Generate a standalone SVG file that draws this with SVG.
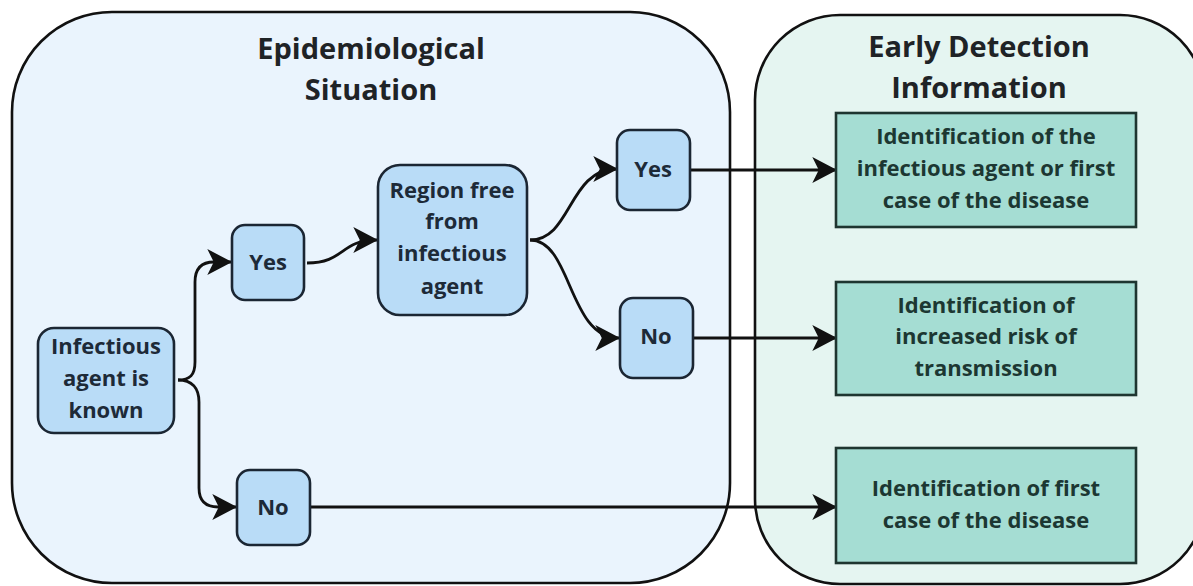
<svg xmlns="http://www.w3.org/2000/svg" width="1193" height="586" viewBox="0 0 1193 586">
<defs>
<style>
.t{font-family:"Open Sans","Noto Sans","DejaVu Sans",sans-serif;font-weight:700;text-anchor:middle}
.title{font-size:29px;fill:#1f2326}
.nt{font-size:22px;fill:#1d2a38}
.bt{font-size:22px;fill:#1c3732}
.node{fill:#b9dcf7;stroke:#1b2633;stroke-width:2.6}
.box{fill:#a5ddd3;stroke:#1e3530;stroke-width:2.6}
.conn path{fill:none;stroke:#111;stroke-width:2.8}
</style>
<marker id="ah" markerUnits="userSpaceOnUse" markerWidth="26" markerHeight="28" viewBox="0 0 24 26" refX="22" refY="13" orient="auto">
<path d="M0,1 L23,13 L0,25 L6,13 Z" fill="#111"/>
</marker>
</defs>
<rect width="1193" height="586" fill="#ffffff"/>
<g id="container-epi">
<rect x="12" y="12" width="718" height="571" rx="100" ry="100" fill="#eaf4fd" stroke="#111" stroke-width="2.6"/>
<text class="t title" x="371" y="59">Epidemiological</text>
<text class="t title" x="371" y="100">Situation</text>
</g>
<g id="container-early">
<rect x="755" y="15" width="450" height="569" rx="85" ry="85" fill="#e5f5f1" stroke="#111" stroke-width="2.6"/>
<text class="t title" x="979" y="57">Early Detection</text>
<text class="t title" x="979" y="98">Information</text>
</g>
<g class="conn" id="connectors">
<path d="M178,380 C190,380 195,375 195,362 L195,282 C195,268 202,262 214,262 L231,262" marker-end="url(#ah)"/>
<path d="M178,380 C192,380 199,388 199,402 L199,488 C199,500 205,507 218,507 L236,507" marker-end="url(#ah)"/>
<path d="M307,263 C345,263 340,240 377,240" marker-end="url(#ah)"/>
<path d="M530,240 C572,240 568,169 617,169" marker-end="url(#ah)"/>
<path d="M530,240 C572,240 568,338 619,338" marker-end="url(#ah)"/>
<path d="M690,170 L836,170" marker-end="url(#ah)"/>
<path d="M693,338 L836,338" marker-end="url(#ah)"/>
<path d="M310,507 L836,507" marker-end="url(#ah)"/>
</g>
<g id="n-known">
<rect class="node" x="38" y="328" width="136" height="105" rx="16"/>
<text class="t nt" x="106" y="354">Infectious</text>
<text class="t nt" x="106" y="386">agent is</text>
<text class="t nt" x="106" y="418">known</text>
</g>
<g id="n-yes1">
<rect class="node" x="232" y="225" width="72" height="75" rx="13"/>
<text class="t nt" x="268" y="270">Yes</text>
</g>
<g id="n-no1">
<rect class="node" x="237" y="470" width="73" height="75" rx="13"/>
<text class="t nt" x="273" y="515">No</text>
</g>
<g id="n-region">
<rect class="node" x="378" y="165" width="149" height="150" rx="22"/>
<text class="t nt" x="452" y="198">Region free</text>
<text class="t nt" x="452" y="229">from</text>
<text class="t nt" x="452" y="261">infectious</text>
<text class="t nt" x="452" y="294">agent</text>
</g>
<g id="n-yes2">
<rect class="node" x="617" y="130" width="73" height="80" rx="13"/>
<text class="t nt" x="653" y="177">Yes</text>
</g>
<g id="n-no2">
<rect class="node" x="620" y="298" width="73" height="80" rx="13"/>
<text class="t nt" x="656" y="344">No</text>
</g>
<g id="b-agent">
<rect class="box" x="836" y="113" width="300" height="114"/>
<text class="t bt" x="986" y="144">Identification of the</text>
<text class="t bt" x="986" y="176">infectious agent or first</text>
<text class="t bt" x="986" y="208">case of the disease</text>
</g>
<g id="b-risk">
<rect class="box" x="836" y="282" width="300" height="113"/>
<text class="t bt" x="986" y="313">Identification of</text>
<text class="t bt" x="986" y="344">increased risk of</text>
<text class="t bt" x="986" y="376">transmission</text>
</g>
<g id="b-first">
<rect class="box" x="836" y="448" width="300" height="115"/>
<text class="t bt" x="986" y="496">Identification of first</text>
<text class="t bt" x="986" y="528">case of the disease</text>
</g>
</svg>
